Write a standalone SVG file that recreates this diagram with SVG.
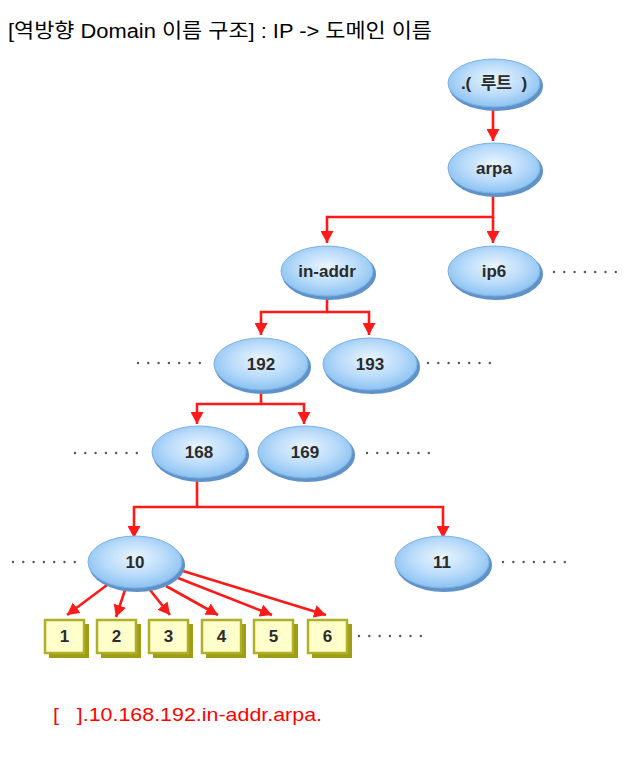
<svg xmlns="http://www.w3.org/2000/svg" width="633" height="757" viewBox="0 0 633 757">
<style>
.t{font-family:"Liberation Sans","Noto Sans CJK KR",sans-serif;font-weight:bold;font-size:17px;fill:#2b2b2b;text-anchor:middle}
.sh{fill:#5f92c8}
.el{fill:url(#g);stroke:#7eb0e2;stroke-width:1}
.c{fill:none;stroke:#ff1a1a;stroke-width:2.6}
.d{fill:none;stroke:#555;stroke-width:2.4;stroke-linecap:round;stroke-dasharray:0 10.3}
.bs{fill:#9e9e16}
.bf{fill:#ffffcc;stroke:#b0b028;stroke-width:2.5}
</style>
<defs>
<radialGradient id="g" cx="50%" cy="45%" r="60%" fx="50%" fy="40%">
<stop offset="0" stop-color="#eaf5ff"/>
<stop offset="0.55" stop-color="#b9dbfa"/>
<stop offset="1" stop-color="#82bdf0"/>
</radialGradient>
<marker id="ah" markerUnits="userSpaceOnUse" markerWidth="13" markerHeight="13" refX="12" refY="6.5" orient="auto">
<path d="M0,0 L12,6.5 L0,13 z" fill="#ff1a1a"/>
</marker>
</defs>
<rect width="633" height="757" fill="#fff"/>
<text x="8" y="38" font-family="Liberation Sans,'Noto Sans CJK KR',sans-serif" font-size="20" fill="#000" textLength="424" lengthAdjust="spacingAndGlyphs">[역방향 Domain 이름 구조] : IP -&gt; 도메인 이름</text>

<g id="connectors">
<path class="c" d="M493,107 V141" marker-end="url(#ah)"/>
<path class="c" d="M493,193 V217 H327 V243" marker-end="url(#ah)"/>
<path class="c" d="M493,217 V243" marker-end="url(#ah)"/>
<path class="c" d="M327,297 V312 H261 V335" marker-end="url(#ah)"/>
<path class="c" d="M327,312 H369 V335" marker-end="url(#ah)"/>
<path class="c" d="M261,391 V404 H197 V424" marker-end="url(#ah)"/>
<path class="c" d="M261,404 H304 V424" marker-end="url(#ah)"/>
<path class="c" d="M197,479 V507 H134 V538" marker-end="url(#ah)"/>
<path class="c" d="M197,507 H443 V538" marker-end="url(#ah)"/>
<path class="c" d="M107,585 L67,615" marker-end="url(#ah)"/>
<path class="c" d="M125,590 L116,617" marker-end="url(#ah)"/>
<path class="c" d="M150,590 L170,615" marker-end="url(#ah)"/>
<path class="c" d="M166,586 L218,615" marker-end="url(#ah)"/>
<path class="c" d="M178,578 L272,615" marker-end="url(#ah)"/>
<path class="c" d="M183,571 L326,615" marker-end="url(#ah)"/>
</g>

<g id="dots">
<path class="d" d="M554,272 H617"/>
<path class="d" d="M138,363 H201"/>
<path class="d" d="M428,363 H491"/>
<path class="d" d="M75,453 H138"/>
<path class="d" d="M367,453 H430"/>
<path class="d" d="M13,562 H76"/>
<path class="d" d="M503,562 H566"/>
<path class="d" d="M359,636 H422"/>
</g>

<g id="n-root"><ellipse class="sh" cx="496" cy="86" rx="47" ry="25"/><ellipse class="el" cx="494" cy="83" rx="46" ry="24"/><text class="t" x="494" y="89" font-size="15" xml:space="preserve">.(  루트  )</text></g>
<g id="n-arpa"><ellipse class="sh" cx="496" cy="171" rx="47" ry="26"/><ellipse class="el" cx="494" cy="168" rx="46" ry="25"/><text class="t" x="494" y="174">arpa</text></g>
<g id="n-inaddr"><ellipse class="sh" cx="329" cy="274" rx="47" ry="26"/><ellipse class="el" cx="327" cy="271" rx="46" ry="25"/><text class="t" x="327" y="277">in-addr</text></g>
<g id="n-ip6"><ellipse class="sh" cx="496" cy="274" rx="47" ry="26"/><ellipse class="el" cx="494" cy="271" rx="46" ry="25"/><text class="t" x="494" y="277">ip6</text></g>
<g id="n-192"><ellipse class="sh" cx="263" cy="367" rx="48" ry="27"/><ellipse class="el" cx="261" cy="364" rx="47" ry="26"/><text class="t" x="261" y="370">192</text></g>
<g id="n-193"><ellipse class="sh" cx="372" cy="367" rx="48" ry="27"/><ellipse class="el" cx="370" cy="364" rx="47" ry="26"/><text class="t" x="370" y="370">193</text></g>
<g id="n-168"><ellipse class="sh" cx="201" cy="455" rx="48" ry="27"/><ellipse class="el" cx="199" cy="452" rx="47" ry="26"/><text class="t" x="199" y="458">168</text></g>
<g id="n-169"><ellipse class="sh" cx="307" cy="455" rx="48" ry="27"/><ellipse class="el" cx="305" cy="452" rx="47" ry="26"/><text class="t" x="305" y="458">169</text></g>
<g id="n-10"><ellipse class="sh" cx="137" cy="565" rx="48" ry="27"/><ellipse class="el" cx="135" cy="562" rx="47" ry="26"/><text class="t" x="135" y="568">10</text></g>
<g id="n-11"><ellipse class="sh" cx="444" cy="565" rx="48" ry="27"/><ellipse class="el" cx="442" cy="562" rx="47" ry="26"/><text class="t" x="442" y="568">11</text></g>

<g id="b1"><rect class="bs" x="49" y="624" width="40" height="34"/><rect class="bf" x="45" y="620" width="39" height="33"/><text class="t" x="64.5" y="642" font-size="15">1</text></g>
<g id="b2"><rect class="bs" x="101" y="624" width="40" height="34"/><rect class="bf" x="97" y="620" width="39" height="33"/><text class="t" x="116.5" y="642" font-size="15">2</text></g>
<g id="b3"><rect class="bs" x="153" y="624" width="40" height="34"/><rect class="bf" x="149" y="620" width="39" height="33"/><text class="t" x="168.5" y="642" font-size="15">3</text></g>
<g id="b4"><rect class="bs" x="206" y="624" width="40" height="34"/><rect class="bf" x="202" y="620" width="39" height="33"/><text class="t" x="221.5" y="642" font-size="15">4</text></g>
<g id="b5"><rect class="bs" x="258" y="624" width="40" height="34"/><rect class="bf" x="254" y="620" width="39" height="33"/><text class="t" x="273.5" y="642" font-size="15">5</text></g>
<g id="b6"><rect class="bs" x="312" y="624" width="40" height="34"/><rect class="bf" x="308" y="620" width="39" height="33"/><text class="t" x="327.5" y="642" font-size="15">6</text></g>

<text x="53" y="721" font-family="Liberation Sans,sans-serif" font-size="19" fill="#ff0000" textLength="269" lengthAdjust="spacingAndGlyphs" xml:space="preserve">[   ].10.168.192.in-addr.arpa.</text>
</svg>
